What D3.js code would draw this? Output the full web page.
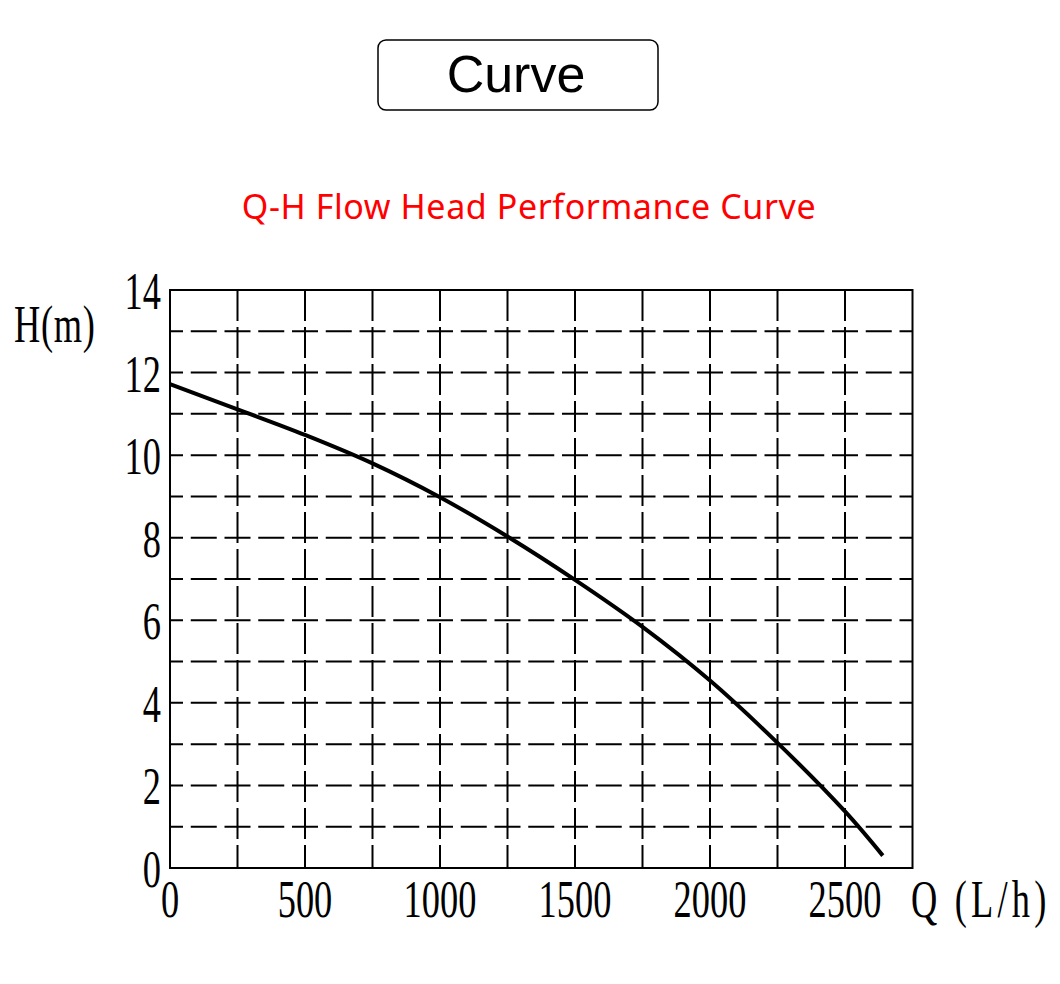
<!DOCTYPE html>
<html>
<head>
<meta charset="utf-8">
<script src="https://cdn.jsdelivr.net/npm/d3@7"></script>
<style>
  body { margin: 0; background: #fff; }
  svg { display: block; }
</style>
</head>
<body>
<div id="chart"></div>
<script>
// Q-H curve
var flowQ = [0, 250, 500, 750, 1000, 1250, 1500, 1750, 2000, 2250, 2500, 2640];
var headH = [11.72, 11.11, 10.49, 9.80, 8.98, 8.03, 6.98, 5.84, 4.54, 3.03, 1.37, 0.3];

var xTickLabels = [0, 500, 1000, 1500, 2000, 2500];
var yTickLabels = [0, 2, 4, 6, 8, 10, 12, 14];
var xGrid = [250, 500, 750, 1000, 1250, 1500, 1750, 2000, 2250, 2500];
var yGrid = [1, 2, 3, 4, 5, 6, 7, 8, 9, 10, 11, 12, 13];

var width = 1060, height = 984;
var margin = {top: 290, right: 147.5, bottom: 116, left: 170};

var svg = d3.select("#chart").append("svg")
    .attr("width", width)
    .attr("height", height);

// header box
svg.append("rect")
    .attr("x", 378).attr("y", 40)
    .attr("width", 280).attr("height", 70)
    .attr("rx", 8).attr("ry", 8)
    .attr("fill", "none")
    .attr("stroke", "#000")
    .attr("stroke-width", 1.5);

svg.append("text")
    .attr("x", 516).attr("y", 92)
    .attr("text-anchor", "middle")
    .style("font-family", "'Liberation Sans', Arial, sans-serif")
    .style("font-size", "52px")
    .text("Curve");

svg.append("text")
    .attr("x", 529).attr("y", 219)
    .attr("text-anchor", "middle")
    .attr("fill", "#ff0000")
    .style("font-family", "'Noto Sans', sans-serif")
    .style("font-size", "34px")
    .style("letter-spacing", "0.6px")
    .text("Q-H Flow Head Performance Curve");

var xScale = d3.scaleLinear()
    .domain([0, 2750])
    .range([margin.left, width - margin.right]);

var yScale = d3.scaleLinear()
    .domain([0, 14])
    .range([height - margin.bottom, margin.top]);

var plot = svg.append("g");

// dashed grid
plot.selectAll(".vgrid")
    .data(xGrid)
    .enter().append("line")
    .attr("class", "vgrid")
    .attr("x1", d => xScale(d)).attr("x2", d => xScale(d))
    .attr("y1", yScale(14)).attr("y2", yScale(0))
    .attr("stroke", "#000")
    .attr("stroke-width", 2)
    .attr("stroke-dasharray", "31,6");

plot.selectAll(".hgrid")
    .data(yGrid)
    .enter().append("line")
    .attr("class", "hgrid")
    .attr("x1", xScale(0)).attr("x2", xScale(2750))
    .attr("y1", d => yScale(d)).attr("y2", d => yScale(d))
    .attr("stroke", "#000")
    .attr("stroke-width", 2)
    .attr("stroke-dasharray", "26,7.75")
    .attr("stroke-dashoffset", 13);

// frame
plot.append("rect")
    .attr("x", xScale(0)).attr("y", yScale(14))
    .attr("width", xScale(2750) - xScale(0))
    .attr("height", yScale(0) - yScale(14))
    .attr("fill", "none")
    .attr("stroke", "#000")
    .attr("stroke-width", 2);

// condensed serif labels
var serif = "'Liberation Serif', 'Times New Roman', serif";
function squeezed(g, x, y, txt, anchor, spacing) {
    g.append("g")
        .attr("transform", "translate(" + x + "," + y + ") scale(0.7,1)")
        .append("text")
        .attr("text-anchor", anchor)
        .style("font-family", serif)
        .style("font-size", "52px")
        .style("letter-spacing", (spacing || 0) + "px")
        .text(txt);
}

yTickLabels.forEach(function(d) {
    squeezed(svg, 161, yScale(d) + 19, d, "end");
});
xTickLabels.forEach(function(d) {
    squeezed(svg, xScale(d), 917, d, "middle");
});
squeezed(svg, 14, 342, "H(m)", "start", 1);
squeezed(svg, 911, 917, "Q (L/h)", "start", 6);

// curve
var line = d3.line()
    .x(function(d, i) { return xScale(flowQ[i]); })
    .y(function(d) { return yScale(d); })
    .curve(d3.curveCatmullRom.alpha(0.5));

plot.append("path")
    .datum(headH)
    .attr("fill", "none")
    .attr("stroke", "#000")
    .attr("stroke-width", 4)
    .attr("d", line);
</script>
</body>
</html>
